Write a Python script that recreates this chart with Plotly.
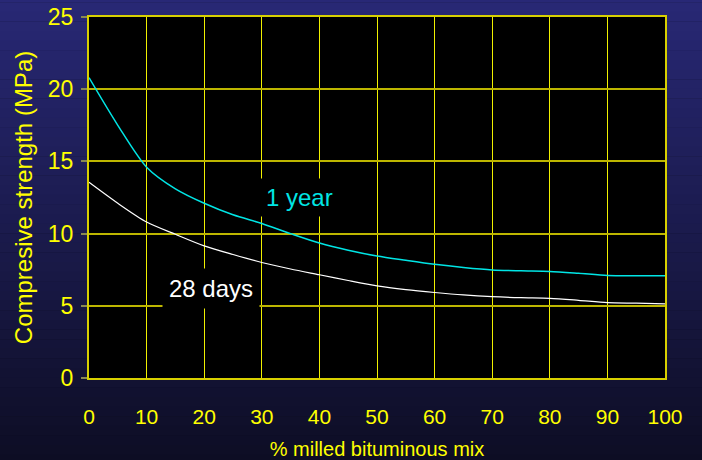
import plotly.graph_objects as go

pct_mix = [0, 5, 10, 15, 20, 25, 30, 35, 40, 45, 50, 55, 60, 65, 70, 75, 80, 85, 90, 95, 100]
one_year = [20.8, 17.5, 14.6, 13.1, 12.1, 11.3, 10.7, 10.0, 9.35, 8.85, 8.45, 8.15, 7.87, 7.65, 7.48, 7.42, 7.38, 7.25, 7.1, 7.08, 7.08]
days_28 = [13.55, 12.1, 10.8, 9.95, 9.15, 8.55, 8.0, 7.55, 7.15, 6.75, 6.38, 6.12, 5.92, 5.75, 5.63, 5.56, 5.52, 5.38, 5.22, 5.18, 5.13]
x_ticks = [0, 10, 20, 30, 40, 50, 60, 70, 80, 90, 100]
y_ticks = [0, 5, 10, 15, 20, 25]

FONT = "Liberation Sans, Arial, sans-serif"

fig = go.Figure()
fig.add_trace(go.Scatter(x=pct_mix, y=one_year, mode="lines", name="1 year",
                         line=dict(color="#00e5e5", width=1.5, shape="spline", smoothing=0.8)))
fig.add_trace(go.Scatter(x=pct_mix, y=days_28, mode="lines", name="28 days",
                         line=dict(color="#ffffff", width=1.2, shape="spline", smoothing=0.8)))

# background gradient
shapes = []
n = 60
top = (43, 43, 126)
bot = (10, 10, 26)
for i in range(n):
    t = i / (n - 1)
    c = tuple(int(round(top[k] + (bot[k] - top[k]) * t)) for k in range(3))
    shapes.append(dict(type="rect", xref="paper", yref="paper", layer="below",
                       x0=-0.3, x1=1.3, y0=1.2 - (i + 1) * 1.6 / n, y1=1.2 - i * 1.6 / n + 0.001,
                       fillcolor="rgb(%d,%d,%d)" % c, line=dict(width=0)))
shapes.append(dict(type="rect", xref="x domain", yref="y domain", layer="below",
                   x0=0, x1=1, y0=0, y1=1, fillcolor="black", line=dict(width=0)))

fig.update_layout(
    width=702, height=460,
    margin=dict(l=89, r=37, t=17, b=82),
    paper_bgcolor="rgb(10,10,26)",
    plot_bgcolor="black",
    showlegend=False,
    shapes=shapes,
    font=dict(family=FONT, color="#ffff00", size=22),
    annotations=[
        dict(x=36.6, y=12.5, text="1 year", showarrow=False, bgcolor="black",
             font=dict(color="#00e5e5", size=24, family=FONT), borderpad=5),
        dict(x=21.2, y=6.23, text="28 days", showarrow=False, bgcolor="black",
             font=dict(color="#ffffff", size=24, family=FONT), borderpad=6),
    ],
)
fig.update_xaxes(range=[0, 100], tickvals=x_ticks, ticktext=[str(v) for v in x_ticks],
                 showgrid=True, gridcolor="#f0f000", gridwidth=1,
                 showline=True, linecolor="#d8d000", linewidth=2, mirror=True,
                 ticks="", zeroline=False, ticklabelstandoff=19, automargin=False,
                 tickfont=dict(size=21, color="#ffff00", family=FONT),
                 title=dict(text="% milled bituminous mix", font=dict(size=20, color="#ffff00", family=FONT), standoff=15))
fig.update_yaxes(range=[0, 25], tickvals=y_ticks, ticktext=[str(v) for v in y_ticks],
                 showgrid=True, gridcolor="#bdb600", gridwidth=2,
                 showline=True, linecolor="#d8d000", linewidth=2, mirror=True,
                 ticks="outside", ticklen=6, tickcolor="#8a8a50", tickwidth=2,
                 zeroline=False, ticklabelstandoff=3, automargin=False,
                 tickfont=dict(size=23, color="#ffff00", family=FONT),
                 title=dict(text="Compresive strength (MPa)", font=dict(size=24, color="#ffff00", family=FONT), standoff=8))

fig.write_html("out.html", config={"displayModeBar": False},
               post_script="document.body.style.margin='0';document.body.style.padding='0';")
